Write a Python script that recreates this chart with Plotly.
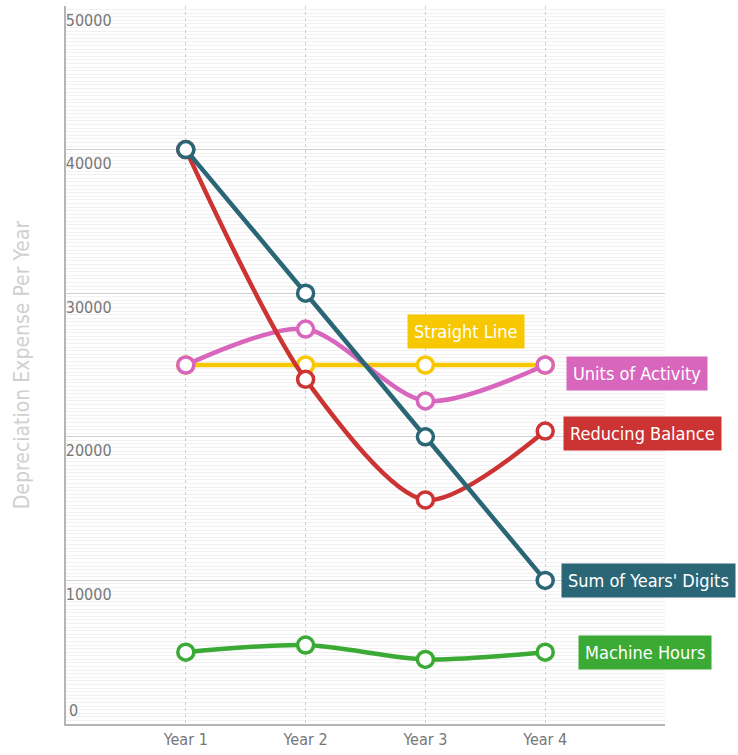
import plotly.graph_objects as go

years = ["Year 1", "Year 2", "Year 3", "Year 4"]
x_pos = [1, 2, 3, 4]
sum_of_years_digits = [40000, 30000, 20000, 10000]
reducing_balance = [40000, 24000, 15600, 20400]
straight_line = [25000, 25000, 25000, 25000]
units_of_activity = [25000, 27500, 22500, 25000]
machine_hours = [5000, 5500, 4500, 5000]
y_ticks = [10000, 20000, 30000, 40000, 50000]
y_tick_text = ["10000", "20000", "30000", "40000", "50000"]
y_zero_tick = [0]
y_zero_text = ["0"]

series = [
    ("Machine Hours", machine_hours, "#3aaa35"),
    ("Straight Line", straight_line, "#f7c800"),
    ("Units of Activity", units_of_activity, "#d866bd"),
    ("Reducing Balance", reducing_balance, "#cc3333"),
    ("Sum of Years' Digits", sum_of_years_digits, "#2b6677"),
]

FONT = "Ubuntu Condensed, Liberation Sans Narrow, DejaVu Sans Condensed, Roboto, sans-serif"

fig = go.Figure()
for name, vals, col in series:
    fig.add_trace(go.Scatter(
        x=x_pos, y=vals, name=name, mode="lines+markers",
        line=dict(color=col, width=4.5, shape="spline", smoothing=0.8),
        marker=dict(symbol="circle", size=16, color="white",
                    line=dict(color=col, width=3.5)),
        showlegend=False, cliponaxis=False,
    ))

# labels
label_specs = [
    ("Straight Line", "#f7c800", 3.34, straight_line[2], 34, "center"),
    ("Units of Activity", "#d866bd", 4.17, units_of_activity[3], -8, "left"),
    ("Reducing Balance", "#cc3333", 4.15, reducing_balance[3], -2, "left"),
    ("Sum of Years' Digits", "#2b6677", 4.13, sum_of_years_digits[3], 0, "left"),
    ("Machine Hours", "#3aaa35", 4.27, machine_hours[3], 0, "left"),
]
for text, col, xx, yy, ysh, xa in label_specs:
    fig.add_annotation(
        x=xx, y=yy, xref="x", yref="y", text=text, showarrow=False,
        xanchor=xa, yanchor="middle", yshift=ysh,
        bgcolor=col, borderpad=6,
        font=dict(family=FONT, size=18, color="white"),
    )

fig.update_layout(
    width=738, height=755,
    margin=dict(l=66, r=73, t=6, b=29),
    paper_bgcolor="white", plot_bgcolor="white",
    font=dict(family=FONT, color="#777777"),
    xaxis=dict(
        range=[0, 5], tickvals=x_pos, ticktext=years,
        showgrid=True, gridcolor="#cfcfcf", griddash="dot", gridwidth=1,
        showline=True, linecolor="#b5b5b5", linewidth=2,
        ticks="", tickfont=dict(size=16, color="#777777"), zeroline=False,
    ),
    yaxis=dict(
        range=[0, 50000], tickvals=y_ticks, ticktext=y_tick_text,
        showgrid=True, gridcolor="#d0d0d0", gridwidth=1,
        minor=dict(dtick=250, showgrid=True, gridcolor="#f1f1f1", gridwidth=1),
        showline=True, linecolor="#b5b5b5", linewidth=2,
        ticks="", ticklabelposition="inside", ticklabelshift=14,
        tickfont=dict(size=16, color="#777777"), zeroline=False,
        title=dict(text="Depreciation Expense Per Year",
                   font=dict(size=21, color="#d0d0d0"), standoff=30),
    ),
    yaxis2=dict(
        range=[0, 50000], overlaying="y", side="left", anchor="x",
        tickvals=y_zero_tick, ticktext=y_zero_text,
        showgrid=False, showline=False, zeroline=False, ticks="",
        ticklabelposition="inside", ticklabelshift=-14,
        tickfont=dict(size=16, color="#777777"),
    ),
)
# invisible carrier trace so the second axis is drawn
fig.add_trace(go.Scatter(x=[None], y=[None], yaxis="y2", showlegend=False,
                         hoverinfo="skip"))

fig.write_html("out.html")
